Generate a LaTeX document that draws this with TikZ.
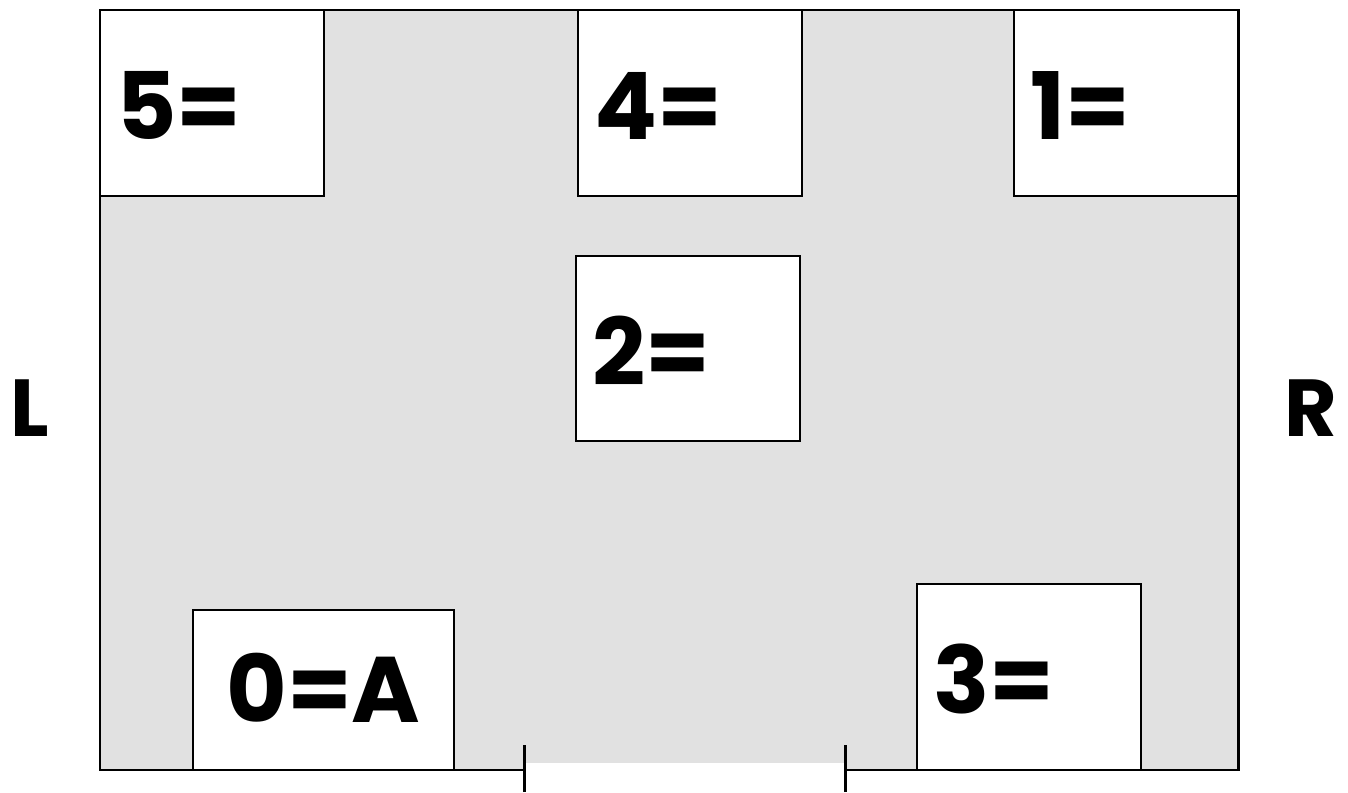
\documentclass[tikz,border=0pt]{standalone}
\usepackage{fontspec}
\setmainfont{Poppins}
\definecolor{floorgray}{HTML}{E1E1E1}
\tikzset{shelf/.style = {draw, fill=white, line width=1.6pt, anchor=south west, outer sep=0pt,
                         minimum width=4.48cm, minimum height=3.72cm, text width=3.84cm, text height=1.48cm,
                         inner xsep=0.32cm, align=left, font=\fontsize{53}{53}\selectfont\bfseries}}
\tikzset{side/.style = {font=\fontsize{46}{46}\selectfont\bfseries}}

\begin{document}
\begin{tikzpicture}
	\useasboundingbox (0,0) rectangle (26.96,15.84);
	% floor and walls
	\fill [floorgray] (2,0.44) rectangle (24.76,15.64);
	\draw [line width=1.7pt] (10.48,0.44) -- (2,0.44) -- (2,15.64) -- (24.76,15.64) -- (24.76,0.44) -- (16.9,0.44);
	% door
	\fill [white] (10.48,0) rectangle (16.9,0.58);
	\draw [line width=1.7pt] (10.48,0) -- (10.48,0.94);
	\draw [line width=1.7pt] (16.9,0) -- (16.9,0.94);
	% shelves
	\node [shelf] (s5) at (2,11.92) {5=};
	\node [shelf] (s4) at (11.56,11.92) {4=};
	\node [shelf] (s1) at (20.28,11.92) {1=};
	\node [shelf, minimum height=3.7cm] (s2) at (11.52,7.02) {2=};
	\node [shelf] (s3) at (18.34,0.44) {3=};
	\node [shelf, minimum height=3.2cm, text width=4.58cm, text height=1.28cm, align=center] (s0) at (3.86,0.44) {0=A};
	\node [side] (left) at (0.6,7.68) {L};
	\node [side] (right) at (26.22,7.68) {R};
\end{tikzpicture}
\end{document}
